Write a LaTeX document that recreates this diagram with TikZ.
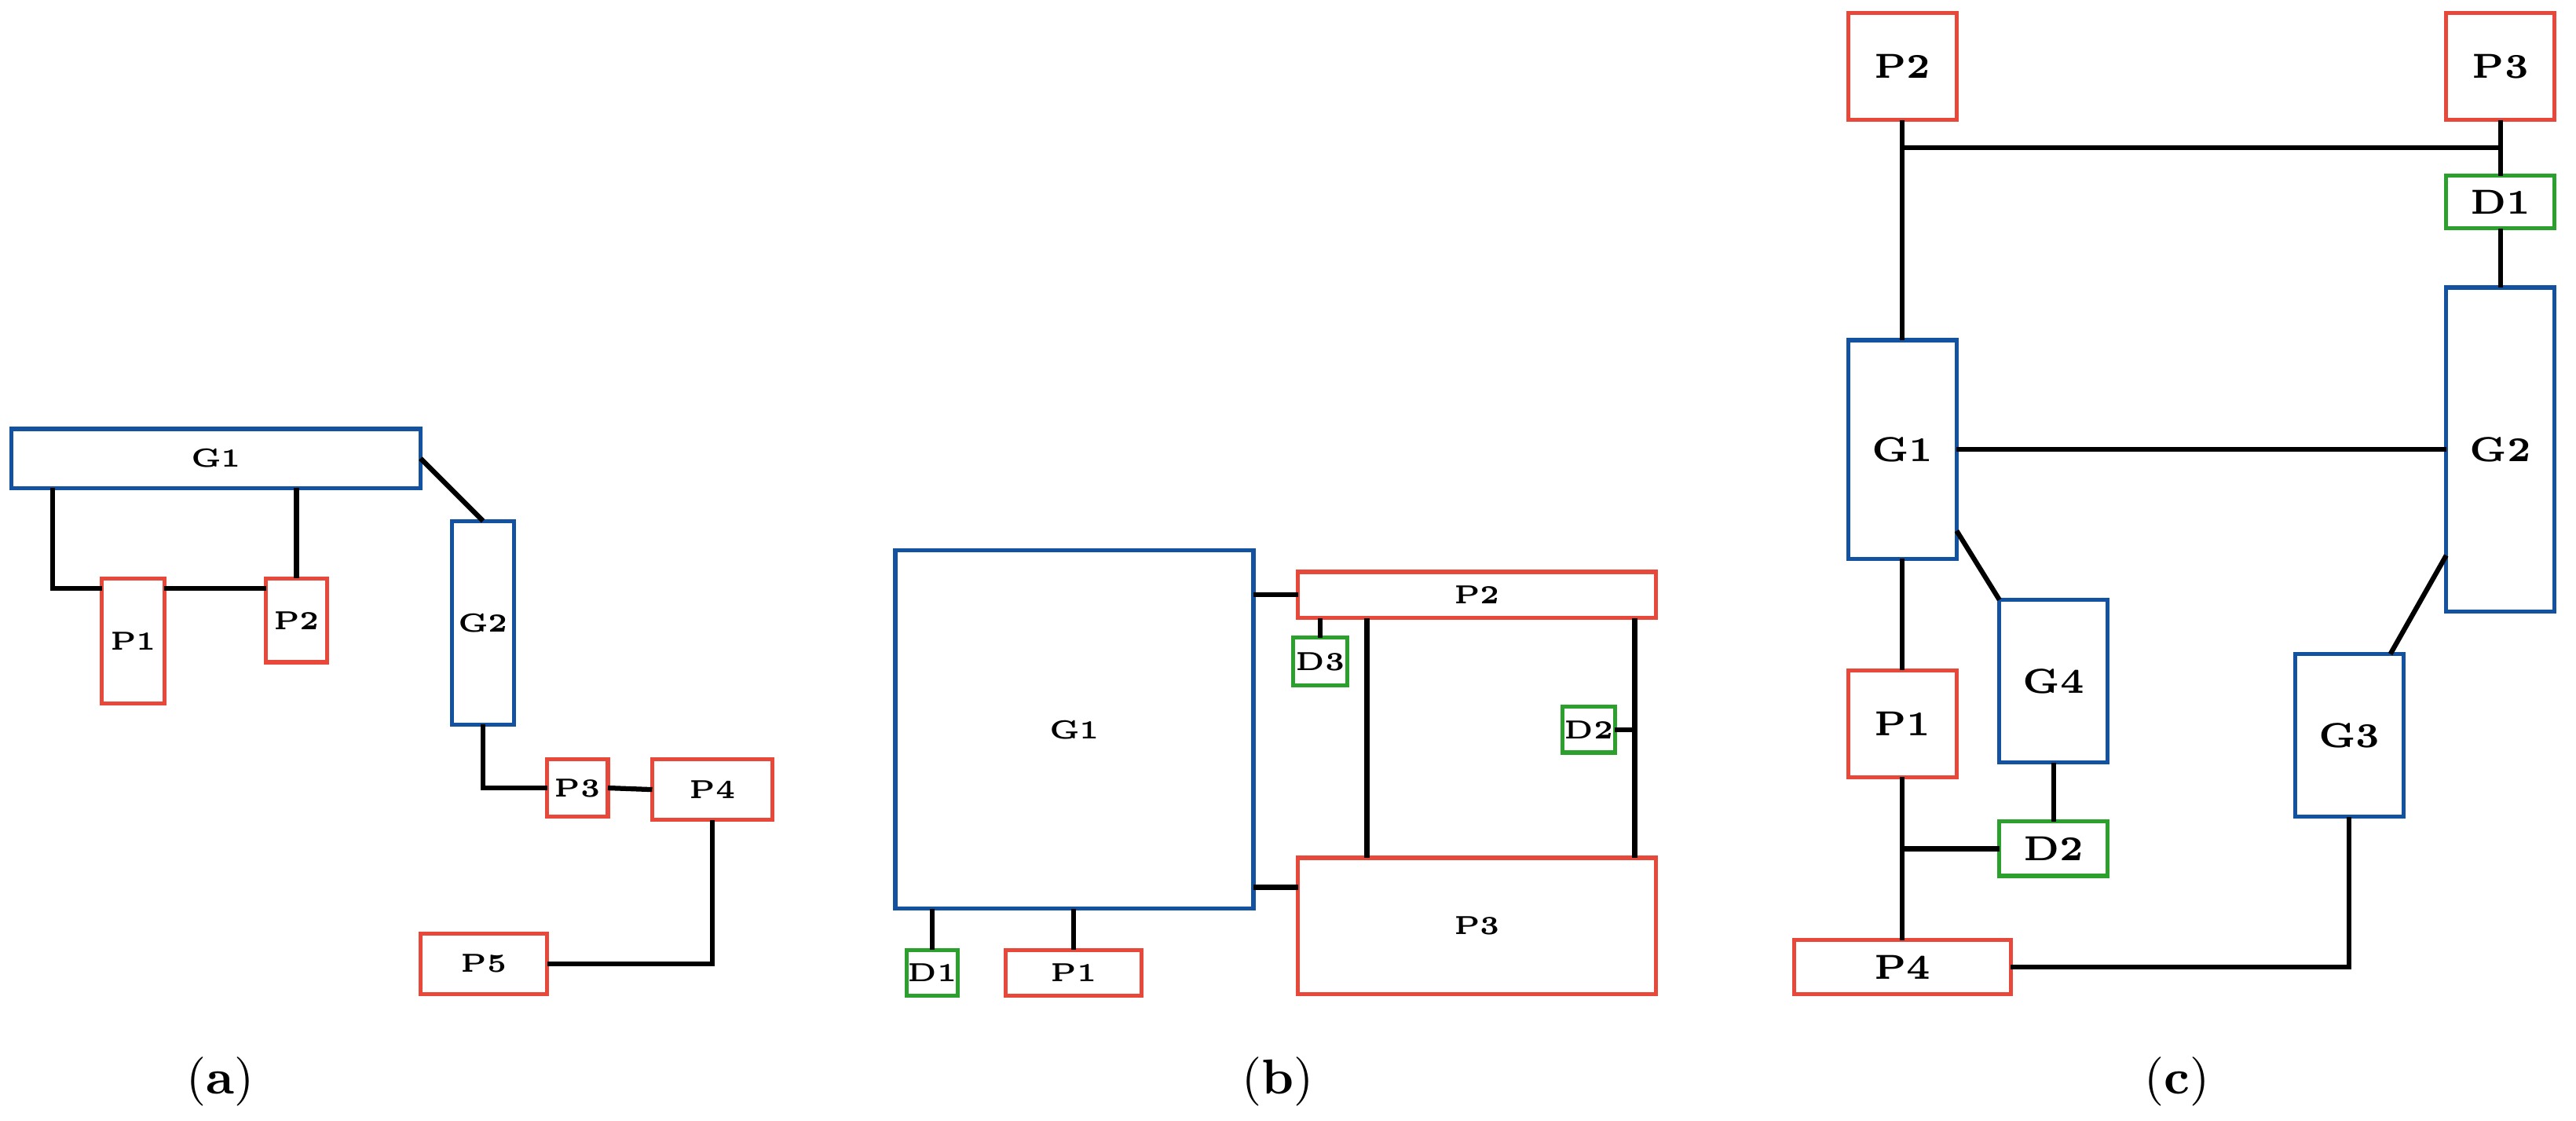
\documentclass[tikz,border=0pt]{standalone}
\usetikzlibrary{calc}
\definecolor{cr}{RGB}{232,72,58}
\definecolor{cb}{RGB}{18,82,160}
\definecolor{cg}{RGB}{44,160,44}
\newcommand{\bx}[8]{\node[#2,minimum width={(#5-#3)*0.01cm},minimum height={(#6-#4)*0.01cm}] (#1) at ({(#3+#5)/2},{(#4+#6)/2}) {#7#8};}
\begin{document}
\begin{tikzpicture}[x=0.01cm,y=-0.01cm,
  bx/.style={draw,line width=0.7pt,inner sep=0pt,outer sep=0pt,font=\bfseries},
  R/.style={bx,draw=cr},B/.style={bx,draw=cb},G/.style={bx,draw=cg},
  sm/.style={font=\fontsize{4.5}{5}\selectfont\bfseries},
  lg/.style={font=\fontsize{6}{7}\selectfont\bfseries},
  every path/.style={line width=0.85pt}]
\useasboundingbox (0,0) rectangle (1568,682);
% (a)
\bx{aG1}{B,sm}{7}{261}{256}{297}{G1}{}
\bx{aG2}{B,sm}{275}{317}{313}{441}{G2}{}
\bx{aP1}{R,sm}{62}{352}{100}{428}{P1}{}
\bx{aP2}{R,sm}{162}{352}{199}{403}{P2}{}
\bx{aP3}{R,sm}{333}{462}{370}{497}{P3}{}
\bx{aP4}{R,sm}{397}{462}{470}{499}{P4}{}
\bx{aP5}{R,sm}{256}{568}{333}{605}{P5}{}
\draw ($(aG1.south west)+(25,0)$) |- ($(aP1.north west)+(0,6)$);
\draw ($(aP1.north east)+(0,6)$) -- ($(aP2.north west)+(0,6)$);
\draw (aP2.north) -- (aP2.north |- aG1.south);
\draw (aG1.east) -- (aG2.north);
\draw (aG2.south) |- (aP3.west);
\draw (aP3.east) -- (aP4.west);
\draw (aP4.south) |- (aP5.east);
% (b)
\bx{bG1}{B,sm}{545}{335}{763}{553}{G1}{}
\bx{bP2}{R,sm}{790}{348}{1008}{376}{P2}{}
\bx{bD3}{G,sm}{787}{388}{820}{417}{D3}{}
\bx{bD2}{G,sm}{951}{430}{983}{458}{D2}{}
\bx{bP3}{R,sm}{790}{522}{1008}{605}{P3}{}
\bx{bD1}{G,sm}{552}{578}{583}{606}{D1}{}
\bx{bP1}{R,sm}{612}{578}{695}{606}{P1}{}
\coordinate (bv2) at ($(bP2.south east)+(-13,0)$);
\draw (bP2.west -| bG1.east) -- (bP2.west);
\draw ($(bG1.south east)+(0,-13)$) -- ($(bP3.north west)+(0,18)$);
\draw (bD3.north) -- (bD3.north |- bP2.south);
\draw ($(bP2.south west)+(42,0)$) -- ($(bP3.north west)+(42,0)$);
\draw (bv2) -- ($(bP3.north east)+(-13,0)$);
\draw (bD2.east) -- (bD2.east -| bv2);
\draw (bD1.north) -- (bD1.north |- bG1.south);
\draw (bP1.north) -- (bP1.north |- bG1.south);
% (c)
\bx{cP2}{R,lg}{1125}{8}{1191}{73}{P2}{}
\bx{cP3}{R,lg}{1489}{8}{1555}{73}{P3}{}
\bx{cD1}{G,lg}{1489}{107}{1555}{139}{D1}{}
\bx{cG1}{B,lg}{1125}{207}{1191}{340}{G1}{}
\bx{cG2}{B,lg}{1489}{175}{1555}{372}{G2}{}
\bx{cG4}{B,lg}{1217}{365}{1283}{464}{G4}{}
\bx{cG3}{B,lg}{1397}{398}{1463}{497}{G3}{}
\bx{cP1}{R,lg}{1125}{408}{1191}{473}{P1}{}
\bx{cD2}{G,lg}{1217}{500}{1283}{533}{D2}{}
\bx{cP4}{R,lg}{1092}{572}{1224}{605}{P4}{}
\draw (cP2.south) -- (cG1.north);
\draw ($(cP2.south)+(0,17)$) -- ($(cP3.south)+(0,17)$);
\draw (cP3.south) -- (cD1.north);
\draw (cD1.south) -- (cG2.north);
\draw (cG1.east) -- (cG1.east -| cG2.west);
\draw ($(cG1.south east)+(0,-17)$) -- (cG4.north west);
\draw ($(cG2.south west)+(0,-34)$) -- ($(cG3.north east)+(-8,0)$);
\draw (cG1.south) -- (cP1.north);
\draw (cP1.south) -- (cP4.north);
\draw (cD2.west) -- (cD2.west -| cP1.south);
\draw (cG4.south) -- (cD2.north);
\draw (cG3.south) |- (cP4.east);
% captions
\node[font=\fontsize{8.5}{10}\selectfont] (la) at (134,658) {(\textbf{a})};
\node[font=\fontsize{8.5}{10}\selectfont] (lb) at (778,658) {(\textbf{b})};
\node[font=\fontsize{8.5}{10}\selectfont] (lc) at (1325,658) {(\textbf{c})};
\end{tikzpicture}
\end{document}
